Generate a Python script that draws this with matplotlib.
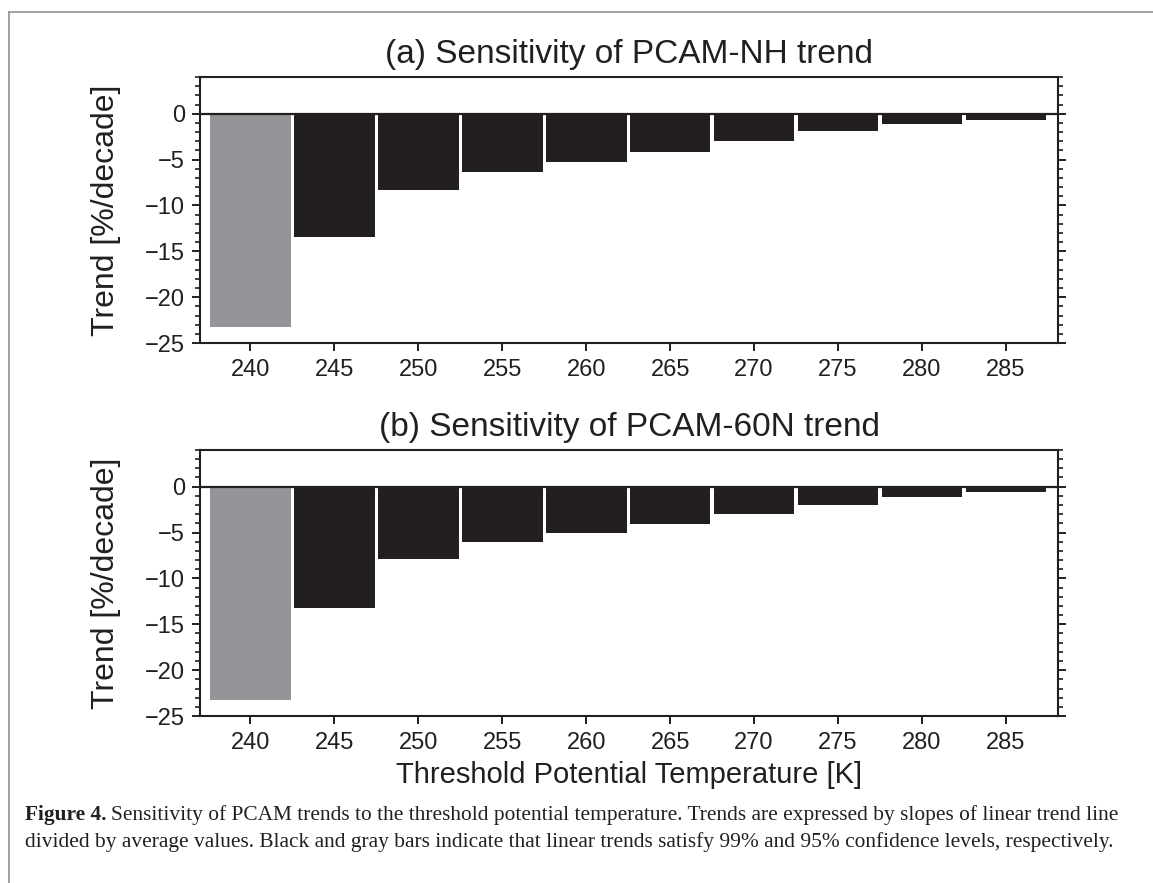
import matplotlib.pyplot as plt
from matplotlib.ticker import MultipleLocator
from matplotlib.lines import Line2D

# threshold potential temperature [K]
thresholds = [240, 245, 250, 255, 260, 265, 270, 275, 280, 285]

# trends in %/decade
trend_nh = [-23.3, -13.4, -8.3, -6.4, -5.3, -4.2, -3.0, -1.9, -1.1, -0.7]
trend_60n = [-23.2, -13.2, -7.9, -6.0, -5.0, -4.1, -3.0, -2.0, -1.1, -0.6]

# 95% only for the first bar, 99% for the rest
signif_99 = [False, True, True, True, True, True, True, True, True, True]

titles = ["(a) Sensitivity of PCAM-NH trend", "(b) Sensitivity of PCAM-60N trend"]

black = "#231f20"
gray = "#939598"

plt.rcParams['font.family'] = ['Liberation Sans', 'DejaVu Sans']
plt.rcParams['text.color'] = black
plt.rcParams['axes.labelcolor'] = black
plt.rcParams['xtick.color'] = black
plt.rcParams['ytick.color'] = black

fig = plt.figure(figsize=(11.53, 8.83), dpi=100)

positions = [[0.1735, 0.6115, 0.7441, 0.3013],
             [0.1735, 0.1891, 0.7441, 0.3013]]

for i, vals in enumerate([trend_nh, trend_60n]):
    ax = fig.add_axes(positions[i])
    colors = [black if s else gray for s in signif_99]
    ax.bar(thresholds, vals, width=4.8, color=colors, zorder=2)
    ax.axhline(0, color=black, lw=1.6, zorder=3)
    ax.set_xlim(237, 288.1)
    ax.set_ylim(-25, 4)
    ax.set_xticks(thresholds)
    ax.set_yticks([-25, -20, -15, -10, -5, 0])
    ax.yaxis.set_minor_locator(MultipleLocator(1))
    ax.tick_params(axis='y', which='both', direction='out', left=True, right=True)
    ax.tick_params(axis='x', which='both', direction='out', top=False)
    ax.tick_params(which='major', length=5.8, width=1.4, labelsize=17, pad=5)
    ax.tick_params(axis='x', which='major', pad=6)
    ax.tick_params(which='minor', length=3.6, width=1.2)
    for sp in ax.spines.values():
        sp.set_linewidth(1.5)
        sp.set_color(black)
    ax.set_title(titles[i], fontsize=24, pad=10)
    ax.set_ylabel("Trend [%/decade]", fontsize=23)
    ax.yaxis.set_label_coords(-0.092, 0.5)
    if i == 1:
        ax.set_xlabel("Threshold Potential Temperature [K]", fontsize=21, labelpad=5)

# grey frame of the journal figure box
fig.add_artist(Line2D([9 / 1153, 1.0], [1 - 12 / 883, 1 - 12 / 883],
                      transform=fig.transFigure, color="#9a9a9a", lw=1.3))
fig.add_artist(Line2D([9 / 1153, 9 / 1153], [0, 1 - 12 / 883],
                      transform=fig.transFigure, color="#9a9a9a", lw=1.3))

cap1 = ("Sensitivity of PCAM trends to the threshold potential temperature. "
        "Trends are expressed by slopes of linear trend line")
cap2 = ("divided by average values. Black and gray bars indicate that linear trends "
        "satisfy 99% and 95% confidence levels, respectively.")
t = fig.text(25 / 1153, 1 - 820 / 883, "Figure 4.", fontsize=15.4,
             family='Liberation Serif', weight='bold')
fig.canvas.draw()
bb = t.get_window_extent()
fig.text((bb.x1 + 4) / 1153, 1 - 820 / 883, cap1, fontsize=15.4, family='Liberation Serif')
fig.text(25 / 1153, 1 - 847 / 883, cap2, fontsize=15.4, family='Liberation Serif')

fig.savefig("out.png", dpi=100)
